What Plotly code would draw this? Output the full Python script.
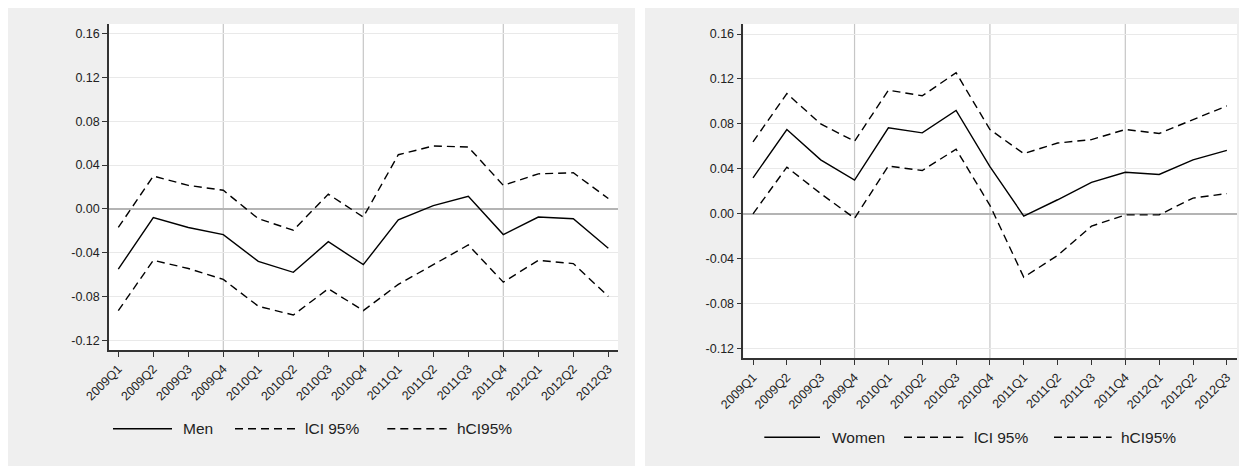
import plotly.graph_objects as go

W, H = 1247, 466
OFF = 8  # page body margin offset (pixels)

quarters = ["2009Q1", "2009Q2", "2009Q3", "2009Q4", "2010Q1", "2010Q2", "2010Q3", "2010Q4",
            "2011Q1", "2011Q2", "2011Q3", "2011Q4", "2012Q1", "2012Q2", "2012Q3"]
year_marks = ["2009Q4", "2010Q4", "2011Q4"]

men = [-0.055, -0.008, -0.017, -0.0235, -0.048, -0.058, -0.030, -0.051,
       -0.010, 0.003, 0.0115, -0.0235, -0.0075, -0.009, -0.036]
men_lci = [-0.093, -0.047, -0.0545, -0.0645, -0.089, -0.097, -0.073, -0.093,
           -0.069, -0.051, -0.033, -0.067, -0.047, -0.050, -0.080]
men_hci = [-0.017, 0.030, 0.0215, 0.017, -0.009, -0.0195, 0.0135, -0.0075,
           0.0495, 0.0575, 0.0565, 0.0215, 0.032, 0.033, 0.0095]

women = [0.032, 0.075, 0.048, 0.030, 0.0765, 0.072, 0.092, 0.042,
         -0.002, 0.0125, 0.028, 0.037, 0.035, 0.048, 0.0565]
women_lci = [0.0, 0.0415, 0.018, -0.004, 0.0425, 0.0385, 0.0575, 0.0075,
             -0.0565, -0.037, -0.011, -0.001, -0.001, 0.014, 0.018]
women_hci = [0.064, 0.107, 0.080, 0.0645, 0.110, 0.105, 0.1255, 0.075,
             0.0535, 0.063, 0.066, 0.075, 0.0715, 0.084, 0.096]

ytick_vals = [-0.12, -0.08, -0.04, 0.00, 0.04, 0.08, 0.12, 0.16]
ytick_text = [f"{v:.2f}" for v in ytick_vals]

left_names = ["Men", "lCI 95%", "hCI95%"]
right_names = ["Women", "lCI 95%", "hCI95%"]

FONT = "Liberation Sans, Arial, sans-serif"
DASH = "8px,5px"
LW = 1.4
BG = "#efefef"


def px(x):
    return (x - OFF) / W


def py(y):
    return 1 - (y - OFF) / H


# panel geometry in screen pixels
panels = [
    dict(bg=(7, 7, 635, 466), plot=(109, 24, 618, 350), xr=[-0.266, 14.277], yr=[-0.129, 0.169],
         leg_y=428.7, leg=[(113, 172, 182.7), (235, 295, 304), (387.3, 446.7, 456.7)]),
    dict(bg=(645, 7, 1255, 474), plot=(743.3, 24, 1237, 358.3), xr=[-0.287, 14.30], yr=[-0.1286, 0.1689],
         leg_y=437.3, leg=[(764.3, 820, 831), (904, 963.3, 973.3), (1054, 1111.7, 1120.7)]),
]
panels[0]["bg"] = (7, 7, 635, 474)

series = [
    (men, men_lci, men_hci, left_names),
    (women, women_lci, women_hci, right_names),
]

fig = go.Figure()
shapes = []
annotations = []

for p in panels:
    x0, y0, x1, y1 = p["bg"]
    shapes.append(dict(type="rect", xref="paper", yref="paper", x0=px(x0), x1=px(x1), y0=py(y1), y1=py(y0),
                       fillcolor=BG, line=dict(width=0), layer="below"))
for p in panels:
    x0, y0, x1, y1 = p["plot"]
    shapes.append(dict(type="rect", xref="paper", yref="paper", x0=px(x0), x1=px(x1), y0=py(y1), y1=py(y0),
                       fillcolor="white", line=dict(width=0), layer="below"))

for i, (p, (mid, lo, hi, names)) in enumerate(zip(panels, series)):
    sfx = "" if i == 0 else str(i + 1)
    xa, ya = "x" + sfx, "y" + sfx
    x0, y0, x1, y1 = p["plot"]
    for vals, dash, nm in [(mid, "solid", names[0]), (lo, DASH, names[1]), (hi, DASH, names[2])]:
        fig.add_trace(go.Scatter(x=quarters, y=vals, mode="lines", name=nm, showlegend=False,
                                 line=dict(color="black", width=LW, dash=dash),
                                 xaxis=xa, yaxis=ya))
    for q in year_marks:
        shapes.append(dict(type="line", xref=xa, yref=ya, x0=q, x1=q, y0=p["yr"][0], y1=p["yr"][1],
                           line=dict(color="#c6c6c6", width=1.2), layer="below"))
    common_axis = dict(showline=True, linecolor="#333333", linewidth=1.5, ticks="outside", ticklen=5,
                       tickwidth=1.2, tickcolor="#333333", automargin=False,
                       tickfont=dict(family=FONT, size=12.5, color="#222222"))
    fig.update_layout(**{
        ("xaxis" + sfx): dict(domain=[px(x0), px(x1)], anchor=ya, type="category",
                              categoryorder="array", categoryarray=quarters,
                              range=p["xr"], showgrid=False, zeroline=False, tickangle=-45,
                              tickmode="array", tickvals=quarters, ticktext=quarters, **common_axis),
        ("yaxis" + sfx): dict(domain=[py(y1), py(y0)], anchor=xa, range=p["yr"],
                              tickmode="array", tickvals=ytick_vals, ticktext=ytick_text,
                              showgrid=True, gridcolor="#e9e9e9", gridwidth=1.2,
                              zeroline=True, zerolinecolor="#b4b4b4", zerolinewidth=2, **common_axis),
    })
    ly = py(p["leg_y"])
    for (lx0, lx1, tx), nm, dash in zip(p["leg"], names, ["solid", "dash", "dash"]):
        shapes.append(dict(type="line", xref="paper", yref="paper", x0=px(lx0), x1=px(lx1), y0=ly, y1=ly,
                           line=dict(color="black", width=LW, dash=DASH if dash == "dash" else "solid"),
                           layer="above"))
        annotations.append(dict(xref="paper", yref="paper", x=px(tx - 1.5), y=ly, text=nm, showarrow=False,
                                xanchor="left", yanchor="middle",
                                font=dict(family=FONT, size=15.5, color="#222222")))

fig.update_layout(width=W, height=H, margin=dict(l=0, r=0, t=0, b=0, autoexpand=False),
                  paper_bgcolor="white", plot_bgcolor="rgba(0,0,0,0)",
                  shapes=shapes, annotations=annotations, showlegend=False,
                  font=dict(family=FONT))

fig.write_html("out.html")
